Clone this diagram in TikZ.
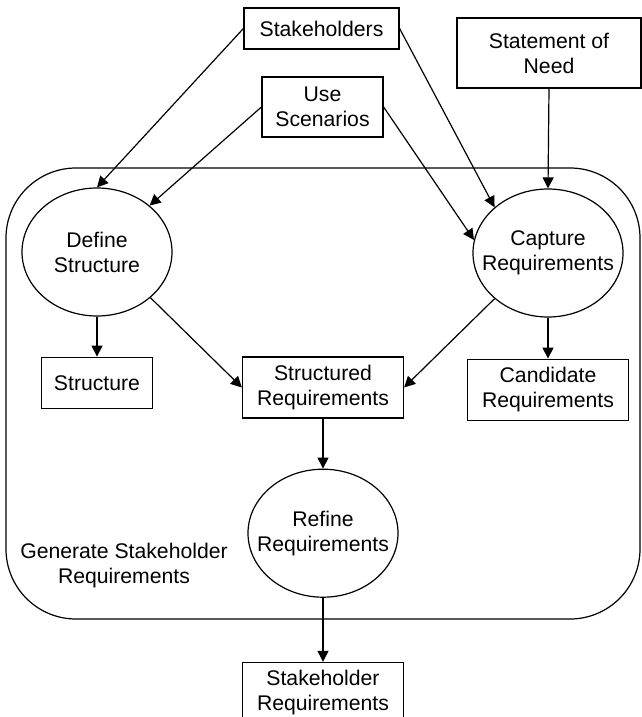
\documentclass[tikz,border=0pt]{standalone}
\usepackage{fontspec}
\setmainfont{Liberation Sans}
\usetikzlibrary{positioning,arrows.meta,shapes.geometric}

\begin{document}
\begin{tikzpicture}[
    x=1pt, y=1pt,
    node distance=20pt and 20pt,
    >={Triangle[length=5.5pt,width=5.5pt]},
    box/.style={rectangle, draw=black, inner sep=0pt, align=center, font=\fontsize{10.6pt}{12.5pt}\selectfont, line width=0.6pt},
    proc/.style={ellipse, draw=black, inner xsep=-8pt, inner ysep=0pt, minimum width=75pt, minimum height=64pt, align=center, font=\fontsize{10.6pt}{12.5pt}\selectfont, line width=0.6pt},
    frame/.style={rectangle, draw=black, rounded corners=35pt, minimum width=317pt, minimum height=225.5pt, line width=0.6pt},
    arrow/.style={->, line width=0.6pt, draw=black},
    caption/.style={align=center, font=\fontsize{10.6pt}{12.5pt}\selectfont}
]
\useasboundingbox (0,0) rectangle (321,-358.5);

% Enclosing activity
\node[frame] (gen) at (161.5,-196.75) {};
\node[caption] (genlabel) at (62,-283) {Generate Stakeholder\\Requirements};

% Inputs
\node[box, minimum width=77.5pt, minimum height=20.5pt] (stake) at (160.75,-14.25) {Stakeholders};
\node[box, minimum width=60.5pt, minimum height=30pt] (use) at (161.25,-53.5) {Use\\Scenarios};
\node[box, minimum width=92pt, minimum height=35pt] (need) at (274.5,-26.5) {Statement of\\Need};

% Processes
\node[proc] (define) at (48.5,-126) {Define\\Structure};
\node[proc] (capture) at (274,-126.5) {Capture\\Requirements};

% Intermediate products
\node[box, minimum width=55.5pt, minimum height=25.5pt, below=of define] (structure) {Structure};
\node[box, minimum width=80.5pt, minimum height=30.5pt] (structreq) at (161.5,-193.75) {Structured\\Requirements};
\node[box, minimum width=80.5pt, minimum height=30.5pt, below=20.5pt of capture] (candidate) {Candidate\\Requirements};

% Refinement and output
\node[proc, below=25pt of structreq] (refine) {Refine\\Requirements};
\node[box, minimum width=80.5pt, minimum height=30.5pt, below=32pt of refine] (stakereq) {Stakeholder\\Requirements};

% Arrows into processes
\draw[arrow] (stake.west) -- (define.north);
\draw[arrow] (use.west) -- (define);
\draw[arrow] (stake.east) -- (capture.north west);
\draw[arrow] (use.east) -- (capture.170);
\draw[arrow] (need.south) -- (capture.north);

% Arrows out of processes
\draw[arrow] (define.south) -- (structure.north);
\draw[arrow] (define.south east) -- (structreq.west);
\draw[arrow] (capture.south west) -- (structreq.east);
\draw[arrow] (capture.south) -- (candidate.north);
\draw[arrow] (structreq.south) -- (refine.north);
\draw[arrow] (refine.south) -- (stakereq.north);

\end{tikzpicture}
\end{document}
